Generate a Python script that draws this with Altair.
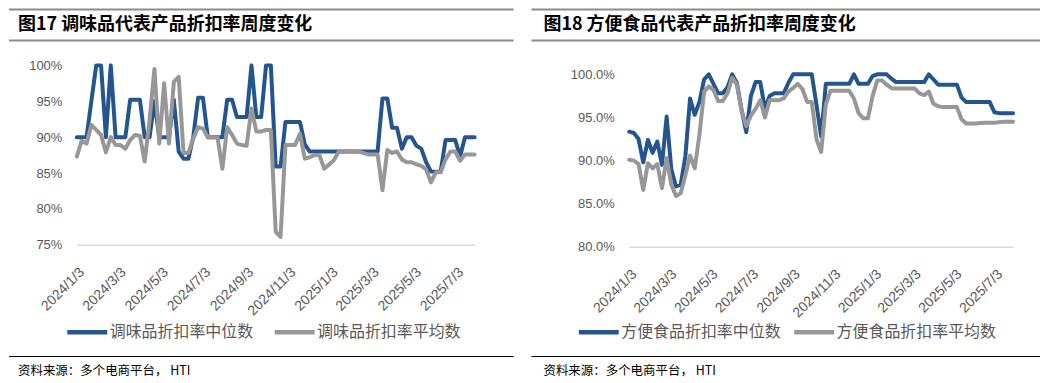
import altair as alt
import pandas as pd

# ---------------- data ----------------
dates = pd.date_range("2024-01-03", periods=83, freq="7D").strftime("%Y-%m-%d").tolist()
tick_dates = ["2024-01-03", "2024-03-03", "2024-05-03", "2024-07-03", "2024-09-03",
              "2024-11-03", "2025-01-03", "2025-03-03", "2025-05-03", "2025-07-03"]

cond_title = "图17 调味品代表产品折扣率周度变化"
food_title = "图18 方便食品代表产品折扣率周度变化"
cond_names = ["调味品折扣率中位数", "调味品折扣率平均数"]
food_names = ["方便食品折扣率中位数", "方便食品折扣率平均数"]
source_text = "资料来源：多个电商平台， HTI"

cond_median = [90, 90, 90, 95, 100, 100, 90, 100, 90, 90,
               90, 95.2, 95.2, 95.2, 90, 90, 95, 90, 90, 90,
               95.2, 88, 87, 87, 90, 95.5, 95.5, 90, 90, 90,
               90, 95.2, 95.2, 92.8, 92.8, 92.8, 100, 92.8, 92.8, 100,
               100, 85.9, 85.9, 92.1, 92.1, 92.1, 92.1, 89, 88, 88,
               88, 88, 88, 88, 88, 88, 88, 88, 88, 88,
               88, 88, 88, 95.4, 95.4, 91.3, 91.3, 88.4, 90, 90,
               88.8, 88.4, 86.5, 85.2, 85.2, 85.2, 89.6, 89.6, 89.6, 87.3,
               90, 90, 90]
cond_mean = [87.3, 89.5, 89.1, 91.7, 91.0, 90.3, 87.9, 90.0, 88.9, 88.9,
             88.4, 89.6, 90.3, 90.2, 86.6, 92.4, 99.5, 89.1, 97.5, 89.1,
             97.7, 98.4, 87.8, 87.8, 89.8, 91.4, 91.2, 90.0, 90.0, 90.0,
             85.6, 91.4, 90.3, 89.1, 88.9, 88.8, 94.0, 90.8, 90.8, 91.0,
             91.0, 76.8, 76.1, 88.9, 88.9, 88.9, 90.5, 87.0, 87.2, 87.5,
             87.5, 85.6, 86.2, 86.8, 88.0, 88.0, 88.0, 88.0, 88.0, 87.8,
             87.6, 87.6, 87.6, 82.6, 88.2, 87.8, 88.0, 86.9, 86.5, 86.5,
             86.2, 86.0, 85.5, 83.7, 85.1, 85.1, 86.9, 88.0, 88.0, 86.7,
             87.6, 87.6, 87.6]
food_median = [93.35, 93.2, 92.5, 89.8, 92.4, 90.9, 92.2, 89.5, 95.1, 89.0,
               87.0, 87.2, 90.5, 97.2, 95.3, 96.8, 99.4, 100, 98.9, 97.8,
               97.8, 98.5, 100, 99.0, 95.9, 93.3, 97.5, 99.1, 99.1, 96.0,
               97.5, 97.8, 97.8, 97.8, 99.0, 100, 100, 100, 100, 100,
               96.5, 92.8, 98.9, 98.9, 98.9, 98.9, 98.9, 98.9, 100, 98.9,
               98.9, 98.9, 99.8, 100, 100, 100, 99.5, 99.1, 99.1, 99.1,
               99.1, 99.1, 99.1, 99.1, 100, 99.4, 98.8, 98.8, 98.8, 98.8,
               98.8, 97.3, 96.8, 96.8, 96.8, 96.8, 96.8, 96.8, 95.6, 95.5,
               95.5, 95.5, 95.5]
food_mean = [90.1, 90.0, 89.6, 86.6, 89.7, 89.1, 89.6, 86.8, 90.3, 87.2,
             85.9, 86.2, 88.3, 90.6, 89.1, 93.0, 98.0, 98.6, 98.2, 96.9,
             96.9, 97.8, 99.6, 98.8, 95.8, 94.0, 95.2, 96.0, 97.0, 95.0,
             97.0, 97.0, 97.0, 97.2, 98.0, 98.4, 98.9, 98.3, 96.8, 96.8,
             92.5, 91.0, 96.5, 98.1, 98.1, 98.1, 98.1, 98.1, 97.2, 95.5,
             94.9, 94.9, 97.5, 99.3, 99.3, 98.8, 98.4, 98.35, 98.35, 98.35,
             98.35, 98.35, 97.8, 97.6, 98.0, 96.6, 96.3, 96.2, 96.2, 96.2,
             96.2, 94.8, 94.3, 94.3, 94.3, 94.35, 94.4, 94.4, 94.4, 94.45,
             94.5, 94.5, 94.5]

cond_y_values = [75, 80, 85, 90, 95, 100]
food_y_values = [80, 85, 90, 95, 100]

colors = ["#23558F", "#979797"]
CJK = "Noto Sans CJK SC"
LAT = "Liberation Sans"


def dt(s):
    y, m, d = (int(p) for p in s.split("-"))
    return alt.DateTime(year=y, month=m, date=d, utc=True)


def panel(title, names, median, mean, ydom, yvals, yfmt, w, h,
          line_x0, line_x1, text_x, legend_x, col_pad):
    n = len(dates)
    df = pd.DataFrame({
        "date": dates + dates,
        "value": median + mean,
        "series": [names[0]] * n + [names[1]] * n,
    })
    lines = alt.Chart(df).mark_line(
        strokeWidth=4, strokeJoin="round", strokeCap="round", clip=False
    ).encode(
        x=alt.X("date:T", title=None,
                scale=alt.Scale(type="utc", domain=[dt(dates[0]), dt(dates[-1])]),
                axis=alt.Axis(values=[dt(s) for s in tick_dates], format="%Y/%-m/%-d",
                              labelAngle=-45, labelFontSize=14, labelFont=LAT,
                              labelColor="#595959", ticks=False, grid=False,
                              domainColor="#D9D9D9", domainWidth=1.5, labelPadding=20,
                              labelOverlap=False, labelFlush=False)),
        y=alt.Y("value:Q", title=None,
                scale=alt.Scale(domain=ydom, nice=False, zero=False),
                axis=alt.Axis(values=yvals,
                              labelExpr=f"format(datum.value, '{yfmt}') + '%'",
                              domain=False, ticks=False, grid=False, labelPadding=15,
                              labelFontSize=13, labelFont=LAT, labelColor="#595959")),
        color=alt.Color("series:N", scale=alt.Scale(domain=names, range=colors),
                        legend=alt.Legend(title=None, orient="none", legendX=legend_x,
                                          legendY=245, direction="horizontal",
                                          symbolType="stroke", symbolSize=1600,
                                          symbolStrokeWidth=4.5, labelFontSize=16,
                                          labelFont=CJK, labelColor="#595959",
                                          labelOffset=0, labelLimit=400,
                                          columnPadding=col_pad)),
    )
    one = pd.DataFrame({"k": [0]})

    def rule(y, color, sw):
        return alt.Chart(one).mark_rule(color=color, strokeWidth=sw).encode(
            x=alt.value(line_x0), x2=alt.value(line_x1), y=alt.value(y))

    title_mark = alt.Chart(one).mark_text(
        text=title, align="left", baseline="middle", fontSize=18, fontWeight="bold",
        font=CJK, color="#000000").encode(x=alt.value(text_x), y=alt.value(-40))
    src_mark = alt.Chart(one).mark_text(
        text=source_text, align="left", baseline="middle", fontSize=12.5,
        font=CJK, color="#000000").encode(x=alt.value(text_x), y=alt.value(307))
    return alt.layer(
        lines,
        rule(-56, "#8C8C8C", 2),
        rule(-25, "#8C8C8C", 2),
        rule(292, "#000000", 1),
        title_mark,
        src_mark,
    ).properties(width=w, height=h)


left = panel(cond_title, cond_names, cond_median, cond_mean, [75, 100], cond_y_values, ".0f",
             399, 180, -68, 438, -59, -12, 11)
right = panel(food_title, food_names, food_median, food_mean, [80, 101.04], food_y_values, ".1f",
              385, 182, -98, 412, -86, -53, 3)

chart = alt.hconcat(left, right, spacing=16).resolve_scale(
    color="independent", x="independent", y="independent"
).properties(padding=0).configure_view(stroke=None)

chart.save("out.html", embed_options={"renderer": "svg", "actions": False})
